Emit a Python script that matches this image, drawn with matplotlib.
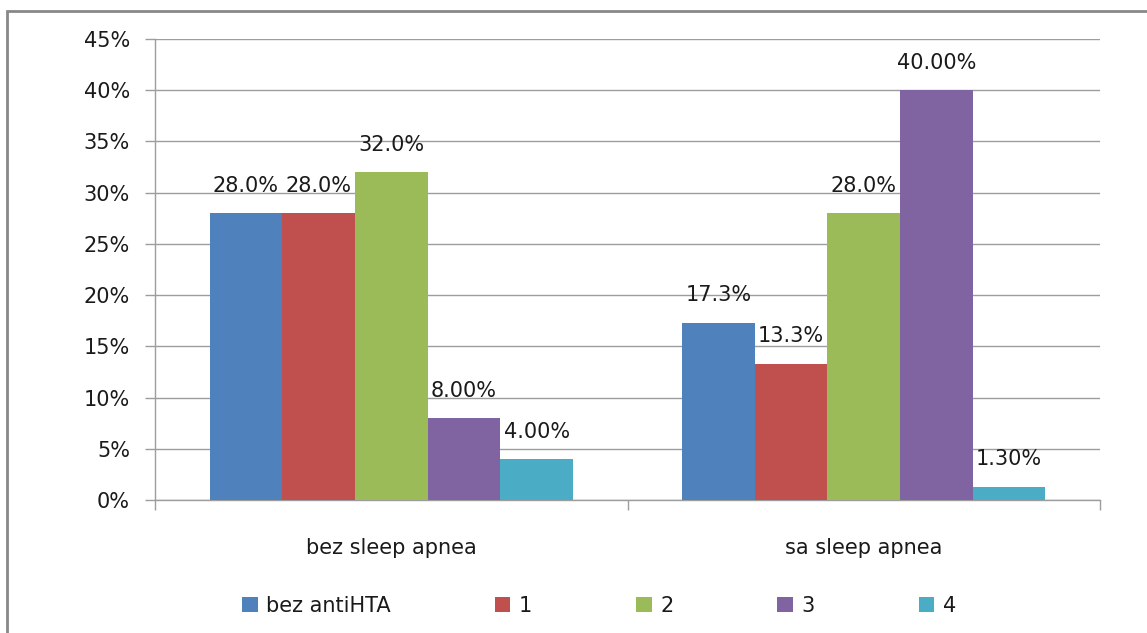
import matplotlib.pyplot as plt
from matplotlib.patches import Patch, Rectangle
import numpy as np

plt.rcParams['font.family'] = ['DejaVu Sans']

groups = ["bez sleep apnea", "sa sleep apnea"]
series = ["bez antiHTA", "1", "2", "3", "4"]
values = [
    [28.0, 17.3],
    [28.0, 13.3],
    [32.0, 28.0],
    [8.0, 40.0],
    [4.0, 1.3],
]
labels = [
    ["28.0%", "17.3%"],
    ["28.0%", "13.3%"],
    ["32.0%", "28.0%"],
    ["8.00%", "40.00%"],
    ["4.00%", "1.30%"],
]
colors = ["#4F81BD", "#C0504D", "#9BBB59", "#8064A2", "#4BACC6"]

txt = "#1a1a1a"
grid = "#9d9d9d"
fs = 15

fig = plt.figure(figsize=(11.47, 6.33), dpi=100)
ax = fig.add_axes([155 / 1147, 133 / 633, 945 / 1147, 461 / 633])

# gray frame around the chart
fig.patches.append(Rectangle((7 / 1147, -0.05), 1.2, 622 / 633 + 0.05,
                             transform=fig.transFigure, fill=False,
                             edgecolor="#888888", linewidth=2))

x = np.arange(len(groups))
w = 1 / 6.5
for i, s in enumerate(series):
    pos = x - 2 * w + i * w
    ax.bar(pos, values[i], width=w, color=colors[i], label=s, zorder=3)
    for p, v, lab in zip(pos, values[i], labels[i]):
        ax.annotate(lab, (p, v), xytext=(0, 12.5), textcoords="offset points",
                    ha="center", va="bottom", fontsize=fs, color=txt)

ax.set_xlim(-0.5, 1.5)
ax.set_ylim(0, 45)
ax.set_yticks(np.arange(0, 46, 5))
ax.set_yticklabels([f"{t}%" for t in range(0, 46, 5)])
ax.yaxis.grid(True, color=grid, linewidth=1, zorder=0)
ax.set_axisbelow(True)

ax.set_xticks(x)
ax.set_xticklabels(groups)
ax.set_xticks([-0.5, 0.5, 1.5], minor=True)
ax.tick_params(axis="x", which="major", length=0, pad=27, labelsize=fs, colors=txt)
ax.tick_params(axis="x", which="minor", length=7, color=grid, width=1)
ax.tick_params(axis="y", length=7, color=grid, width=1, pad=11, labelsize=fs, labelcolor=txt)

for sp in ["top", "right"]:
    ax.spines[sp].set_visible(False)
for sp in ["left", "bottom"]:
    ax.spines[sp].set_color(grid)
    ax.spines[sp].set_linewidth(1)

handles = [Patch(facecolor=c, label=s) for c, s in zip(colors, series)]
fig.legend(handles=handles, loc="center", bbox_to_anchor=(599 / 1147, 1 - 606 / 633),
           ncol=5, frameon=False, fontsize=fs, handlelength=0.75, handleheight=0.75,
           handletextpad=0.4, columnspacing=5.0, labelcolor=txt)

fig.savefig("out.png", dpi=100)
